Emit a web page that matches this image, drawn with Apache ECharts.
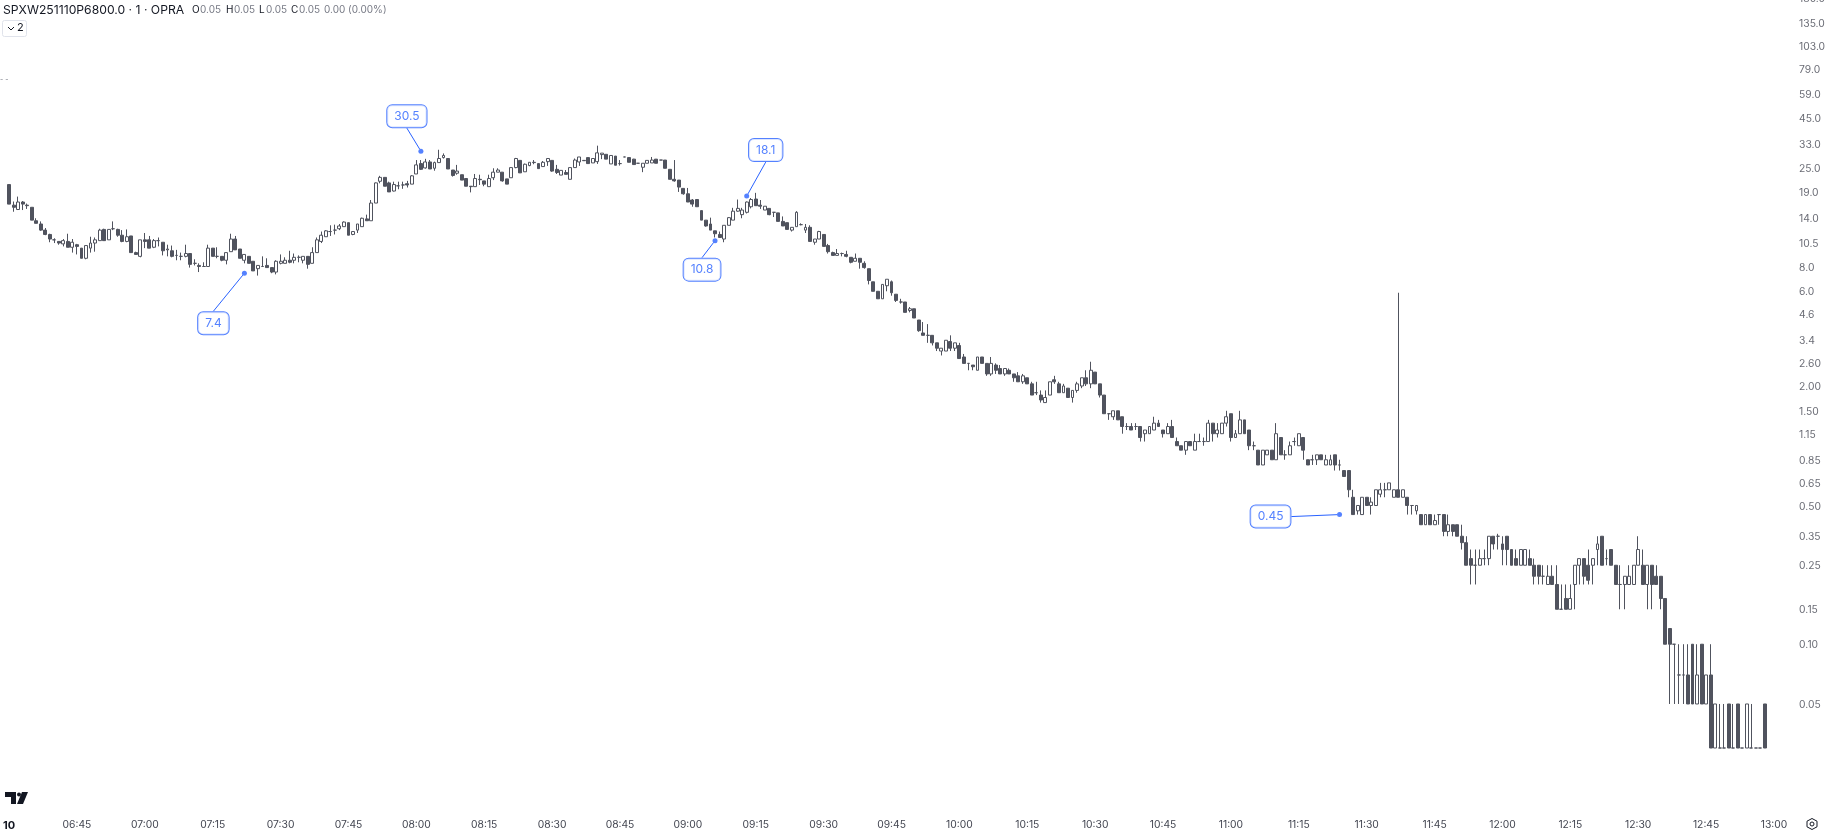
<!DOCTYPE html>
<html><head><meta charset="utf-8">
<style>html,body{margin:0;padding:0;background:#fff}#c{width:1826px;height:834px}</style>
<script src="https://cdn.jsdelivr.net/npm/echarts@6/dist/echarts.min.js"></script>
</head><body><div id="c"></div>
<script>
const opens=[20.7,16.3,15.5,16.9,16.3,15.9,13.6,13.1,12.2,11.6,
10.9,10.7,10.4,10.7,10.0,10.3,9.9,8.8,9.9,10.5,
10.8,12.3,10.9,12.4,12.3,11.5,10.7,11.4,9.4,9.0,
10.9,10.9,10.0,10.8,10.6,9.7,9.6,9.1,9.0,9.0,
9.3,8.3,8.1,8.0,8.0,9.9,9.0,9.0,8.6,9.5,
11.0,9.8,8.6,9.0,8.5,7.8,8.0,8.1,7.9,7.5,
8.3,8.3,8.6,8.6,8.9,8.6,9.0,8.3,9.4,10.7,
11.3,12.0,12.2,12.4,12.7,13.3,11.6,12.2,12.7,13.9,
13.6,16.7,21.5,22.5,21.1,19.2,20.4,20.6,20.9,20.8,
23.4,26.4,25.1,26.9,25.0,26.7,28.3,28.0,24.5,23.6,
23.2,22.2,20.3,20.2,22.0,21.6,20.2,22.4,23.9,23.9,
22.1,22.4,25.2,27.4,24.0,25.8,26.8,26.4,25.5,27.0,
27.4,24.7,23.1,23.8,22.0,25.2,26.9,27.4,28.3,26.6,
27.0,29.3,29.4,26.3,28.8,26.4,28.5,28.3,27.8,26.5,
25.3,26.5,26.6,27.8,27.5,27.5,24.7,22.0,21.8,19.8,
18.6,17.3,17.4,15.3,13.7,13.1,12.1,11.6,11.0,12.9,
13.7,15.2,14.6,15.0,16.0,17.5,16.3,15.4,15.7,15.0,
14.9,13.5,13.3,12.2,12.7,13.0,12.2,12.6,10.6,11.0,
11.6,10.2,9.4,9.1,9.3,9.2,8.9,8.5,8.8,8.3,
7.8,6.7,6.0,5.5,6.4,6.7,5.8,5.3,5.3,4.8,
4.9,4.3,3.7,3.6,3.6,3.3,3.0,3.0,3.35,3.1,
3.2,2.8,2.6,2.55,2.4,2.8,2.6,2.3,2.55,2.45,
2.3,2.4,2.3,2.25,2.1,2.2,2.05,1.85,1.8,1.65,
1.8,2.15,2.05,1.85,1.95,1.75,1.9,2.0,2.2,2.05,
2.35,2.05,1.8,1.45,1.4,1.5,1.4,1.25,1.25,1.25,
1.25,1.15,1.15,1.2,1.3,1.2,1.15,1.25,1.05,1.0,
.95,1.05,.95,1.05,1.05,1.05,1.3,1.15,1.15,1.3,
1.45,1.1,1.15,1.35,1.2,1.0,.95,.8,.9,.95,
.85,1.1,.9,.9,1.05,1.0,1.1,.85,.85,.85,
.9,.8,.8,.9,.8,.75,.75,.55,.47,.45,
.55,.5,.5,.57,.6,.6,.55,.6,.55,.55,
.5,.47,.45,.4,.45,.4,.45,.45,.37,.4,
.4,.35,.325,.27,.25,.25,.27,.27,.35,.35,
.32,.35,.30,.27,.25,.25,.27,.25,.25,.22,
.20,.22,.20,.15,.17,.15,.20,.25,.27,.25,
.25,.30,.35,.27,.30,.25,.20,.20,.20,.20,
.25,.25,.20,.25,.22,.22,.17,.12,.10,.07,
.07,.07,.10,.05,.10,.05,.07,.03,.03,.03,
.05,.03,.05,.03,.03,.03,.03,.03,.05];
const closes=[16.5,15.9,16.9,16.5,16.2,13.7,13.2,12.2,11.6,11.0,
10.9,10.5,10.8,10.0,10.6,10.1,8.8,10.2,10.5,10.9,
12.2,10.8,12.3,12.4,11.5,10.7,11.3,9.4,9.2,10.9,
10.7,9.9,10.8,10.8,9.6,9.8,9.0,9.1,9.0,9.3,
8.2,8.3,8.0,8.0,9.9,9.0,9.0,8.6,9.4,11.0,
9.7,8.8,9.2,8.3,7.6,8.1,8.0,7.9,7.5,8.5,
8.5,8.6,8.4,8.9,8.9,9.0,8.2,9.4,10.9,11.5,
12.1,12.0,12.2,12.8,13.4,11.5,12.0,13.1,14.0,13.6,
16.7,21.1,22.5,20.3,19.0,20.7,20.4,20.6,20.6,22.9,
26.0,24.7,26.9,24.8,26.7,28.0,29.0,24.8,23.0,24.2,
21.8,20.3,20.2,22.2,21.9,20.8,22.2,23.9,24.5,21.6,
20.8,25.2,28.0,23.7,26.2,26.8,26.7,24.9,26.8,28.0,
24.2,23.8,24.4,23.3,25.2,27.5,28.5,27.3,26.4,28.0,
29.9,29.8,27.8,29.0,25.9,26.4,28.5,26.8,26.1,26.5,
26.5,27.4,27.5,26.5,27.5,25.0,22.0,21.6,20.1,18.6,
16.9,16.5,16.0,13.7,12.8,12.2,11.7,11.2,12.9,14.1,
15.2,15.7,15.4,16.9,17.4,16.2,16.1,16.1,14.6,15.0,
13.5,12.8,12.3,12.6,15.0,13.0,12.6,10.7,11.0,12.0,
10.1,9.5,9.1,9.3,9.3,9.0,8.4,8.8,8.4,7.9,
6.8,6.0,5.5,6.5,6.9,5.9,5.4,5.3,4.7,4.9,
4.4,3.8,3.6,3.6,3.3,3.1,3.1,3.4,3.1,3.3,
2.75,2.6,2.6,2.5,2.8,2.6,2.3,2.6,2.4,2.3,
2.45,2.3,2.2,2.1,2.25,2.05,1.8,1.85,1.7,1.75,
2.1,2.1,1.85,2.0,1.75,1.9,2.05,2.2,2.05,2.4,
2.05,1.8,1.45,1.45,1.5,1.35,1.25,1.25,1.2,1.25,
1.1,1.2,1.25,1.3,1.25,1.15,1.25,1.1,1.0,.95,
1.05,1.0,1.05,1.05,1.05,1.3,1.15,1.2,1.3,1.4,
1.1,1.15,1.35,1.15,1.0,1.0,.8,.95,.95,.85,
1.15,.9,.9,1.0,1.05,1.15,.95,.8,.85,.9,
.85,.85,.85,.8,.8,.7,.6,.45,.5,.55,
.5,.52,.6,.6,.6,.65,.6,.55,.6,.5,
.5,.5,.4,.45,.4,.42,.45,.37,.4,.37,
.35,.325,.25,.25,.25,.27,.27,.35,.32,.35,
.30,.30,.25,.25,.30,.30,.25,.22,.22,.22,
.22,.20,.15,.15,.15,.17,.25,.27,.22,.21,
.27,.32,.25,.27,.25,.20,.20,.22,.22,.25,
.30,.20,.25,.20,.20,.17,.10,.10,.10,.07,
.07,.05,.05,.07,.05,.07,.03,.05,.03,.03,
.03,.03,.03,.03,.05,.03,.03,.03,.03];
const highs=[20.7,17.0,18.0,17.1,16.6,15.9,14.0,13.5,12.5,11.7,
11.1,10.7,11.0,11.7,11.0,10.4,9.9,10.2,11.3,11.2,
12.4,12.4,12.3,13.5,12.4,12.2,12.3,11.4,9.5,10.9,
11.8,11.4,11.0,11.2,10.6,10.3,10.2,9.7,9.4,10.3,
9.3,8.7,8.3,8.4,10.3,9.9,10.0,9.0,9.4,11.7,
11.4,9.8,9.2,9.0,8.5,8.1,9.0,8.8,7.9,8.6,
9.2,8.9,9.6,9.3,9.1,9.0,9.0,10.0,11.2,12.0,
12.2,12.9,13.0,13.1,13.5,13.3,12.0,13.1,14.1,14.6,
17.3,21.2,22.9,22.5,21.4,21.4,21.4,21.4,21.6,23.1,
27.5,27.5,27.9,27.5,27.0,31.0,29.7,28.0,24.5,26.0,
23.2,22.2,20.3,23.4,23.2,21.6,23.2,25.0,25.0,23.9,
22.1,25.2,28.2,27.4,26.4,26.8,27.5,26.4,27.2,28.0,
27.4,26.0,24.4,24.5,25.2,28.0,28.5,27.4,28.3,28.0,
32.5,29.8,29.4,29.0,28.8,27.5,28.5,28.4,27.9,26.5,
26.5,27.4,28.5,27.8,27.5,27.5,24.7,27.5,21.8,19.8,
19.9,17.5,17.5,15.3,13.7,14.1,12.1,12.0,12.9,14.2,
15.8,17.4,15.8,17.0,17.7,18.8,17.3,16.1,15.7,15.0,
14.9,14.3,13.3,12.6,15.2,13.2,13.1,12.9,11.0,12.1,
11.6,10.4,9.5,9.8,9.4,9.6,8.9,9.3,8.8,8.5,
7.8,6.7,6.0,6.5,6.9,6.8,5.8,5.5,5.3,5.0,
4.9,4.3,4.2,4.1,3.6,3.3,3.1,3.4,3.6,3.3,
3.3,2.9,2.6,2.55,2.8,2.8,2.6,2.8,2.6,2.55,
2.45,2.45,2.3,2.35,2.3,2.2,2.1,2.1,1.9,1.9,
2.1,2.25,2.1,2.05,1.95,1.9,2.1,2.2,2.4,2.65,
2.35,2.05,1.8,1.45,1.5,1.5,1.4,1.3,1.3,1.3,
1.25,1.2,1.25,1.4,1.35,1.2,1.3,1.35,1.1,1.0,
1.05,1.05,1.15,1.15,1.1,1.35,1.3,1.3,1.3,1.5,
1.45,1.2,1.5,1.35,1.2,1.05,.95,.95,.95,.95,
1.3,1.1,.95,1.05,1.1,1.15,1.1,.85,.9,.9,
.9,.9,.9,.9,.85,.75,.75,.6,.5,.55,
.55,.55,.6,.65,.65,.65,.6,5.9,.6,.55,
.5,.5,.45,.45,.45,.45,.45,.45,.45,.4,
.4,.4,.35,.30,.30,.30,.30,.35,.35,.36,
.35,.35,.30,.30,.30,.30,.30,.27,.25,.25,
.25,.25,.25,.20,.20,.20,.25,.27,.27,.30,
.27,.35,.35,.30,.30,.25,.25,.22,.25,.25,
.35,.30,.25,.25,.25,.22,.17,.12,.10,.10,
.10,.10,.10,.10,.10,.07,.10,.05,.05,.05,
.05,.05,.05,.03,.05,.05,.03,.03,.05];
const lows=[16.5,15.1,15.4,15.4,15.6,13.7,13.2,12.1,11.5,10.6,
10.5,10.3,10.1,10.0,9.4,9.2,8.8,8.7,9.4,9.5,
10.8,10.8,10.9,12.2,11.3,10.6,10.6,9.4,9.2,8.9,
9.9,9.9,9.9,10.1,9.1,9.0,8.9,8.6,8.6,8.9,
7.9,8.1,7.5,8.0,8.0,9.0,8.8,8.5,8.2,9.5,
9.7,8.8,8.3,8.3,7.6,7.2,8.0,7.9,7.4,7.3,
8.2,8.3,8.3,8.3,8.4,8.3,7.8,8.3,9.4,10.5,
11.3,11.4,11.6,12.2,12.7,11.5,11.5,11.8,12.7,13.6,
13.6,16.7,21.0,20.3,19.0,19.1,19.6,19.7,20.0,20.8,
23.4,24.5,24.9,24.8,24.3,26.7,28.0,24.8,22.7,23.2,
21.8,20.3,18.9,20.2,20.6,20.3,20.2,21.8,23.9,21.4,
20.8,22.4,25.0,23.7,24.0,25.6,26.2,24.9,25.5,25.7,
24.0,23.4,23.1,23.3,22.0,25.2,25.7,27.3,26.4,26.6,
26.3,27.8,27.8,26.3,25.9,25.8,28.5,26.8,26.1,26.5,
23.9,26.5,26.6,26.5,27.5,25.0,22.0,21.4,19.0,18.4,
16.9,16.0,16.0,13.7,12.7,12.2,11.2,11.2,10.6,12.9,
13.7,15.1,14.0,14.8,15.7,16.2,15.6,15.4,14.5,14.2,
13.5,12.8,12.3,12.0,12.7,12.9,11.8,10.7,10.3,11.0,
10.1,9.3,9.1,9.1,9.0,8.9,8.3,8.5,7.8,7.8,
6.5,6.0,5.5,5.5,6.0,5.7,5.3,5.2,4.7,4.7,
4.4,3.75,3.6,3.3,3.2,3.0,2.85,3.0,3.0,3.0,
2.75,2.6,2.4,2.4,2.4,2.6,2.25,2.25,2.3,2.3,
2.25,2.3,2.1,2.1,2.05,2.05,1.8,1.8,1.65,1.65,
1.8,2.05,1.85,1.85,1.75,1.65,1.85,1.95,2.0,1.95,
2.05,1.75,1.45,1.35,1.35,1.35,1.15,1.2,1.2,1.2,
1.05,1.05,1.15,1.2,1.25,1.1,1.15,1.1,1.0,.95,
.9,1.0,.95,1.05,1.0,1.05,1.05,1.1,1.15,1.25,
1.05,1.1,1.15,1.15,.95,.95,.8,.8,.9,.85,
.85,.9,.85,.9,1.0,1.0,.85,.8,.8,.8,
.85,.8,.8,.75,.75,.7,.55,.45,.45,.45,
.5,.45,.5,.55,.55,.6,.55,.55,.55,.45,
.45,.45,.4,.4,.4,.4,.4,.35,.35,.35,
.35,.30,.25,.20,.20,.25,.25,.25,.30,.30,
.25,.25,.25,.25,.25,.25,.25,.20,.20,.20,
.20,.20,.15,.15,.15,.15,.15,.20,.20,.20,
.20,.25,.25,.25,.25,.20,.15,.15,.20,.20,
.25,.20,.15,.15,.20,.15,.10,.05,.05,.05,
.05,.05,.05,.05,.05,.05,.03,.03,.03,.03,
.03,.03,.03,.03,.03,.03,.03,.03,.03];
const priceTicks=[180,135,103,79,59,45,33,25,19,14,10.5,8,6,4.6,3.4,2.6,2,1.5,1.15,.85,.65,.5,.35,.25,.15,.1,.05];
const priceTickLabels=["180.0","135.0","103.0","79.0","59.0","45.0","33.0","25.0","19.0","14.0","10.5","8.0","6.0","4.6","3.4","2.60","2.00","1.50","1.15","0.85","0.65","0.50","0.35","0.25","0.15","0.10","0.05"];
const noteIndex=[52,91,156,163,294];
const notePrice=[7.4,30.5,10.8,18.1,0.45];
const noteText=["7.4","30.5","10.8","18.1","0.45"];
const noteDx=[-31,-14,-13,19,-69];
const noteDy=[50,-35,29,-46,2];
const SESSION_START=390, SLOTS=395;
const AXIS_MIN=0.01428, AXIS_MAX=176.1;
const fmt=m=>String(Math.floor(m/60)).padStart(2,'0')+':'+String(m%60).padStart(2,'0');
const times=Array.from({length:SLOTS},(_,i)=>fmt(SESSION_START+i));
const candles=opens.map((o,i)=>[o,closes[i],lows[i],highs[i]]);
const INK='#50535E', FONT='Inter, "Liberation Sans", sans-serif', AXISTXT='#434651';
const chart=echarts.init(document.getElementById('c'),null,{renderer:'canvas'});
const tick=(x,y,text,fill,size,weight)=>({type:'text',x,y,style:{text,fill,font:(weight||400)+' '+size+'px '+FONT,textVerticalAlign:'middle'},silent:true});
chart.setOption({
 animation:false,backgroundColor:'#fff',
 grid:{left:6.54,top:0,width:1787.8,height:812,containLabel:false},
 tooltip:{show:false},
 xAxis:{type:'category',data:times,boundaryGap:true,
  axisLine:{show:false},axisTick:{show:false},splitLine:{show:false},
  axisLabel:{show:true,margin:8,hideOverlap:false,color:AXISTXT,fontFamily:FONT,fontSize:10.3,
   interval:(i,v)=>+v.slice(3)%15===0,
   formatter:v=>v==='06:30'?'{d|10}':v,
   rich:{d:{fontWeight:700,fontFamily:FONT,fontSize:11,color:'#131722'}}}},
 yAxis:{type:'log',logBase:10,position:'right',min:AXIS_MIN,max:AXIS_MAX,
  axisLine:{show:false},axisTick:{show:false},splitLine:{show:false},minorTick:{show:false},
  axisLabel:{show:false}},
 series:[
  {type:'candlestick',data:candles,barWidth:3.4,clip:false,
   itemStyle:{color:'#ffffff',color0:INK,borderColor:INK,borderColor0:INK,borderWidth:1}},
  {type:'scatter',name:'axis',data:priceTicks.map((p,i)=>[SLOTS-1,p]),symbolSize:0,silent:true,clip:false,
   label:{show:true,position:'right',distance:7,offset:[0,1],color:AXISTXT,fontFamily:FONT,fontSize:10.3,
    formatter:p=>priceTickLabels[p.dataIndex]}},
  {type:'scatter',name:'notes',data:noteIndex.map((n,i)=>[n,notePrice[i]]),symbolSize:5,z:5,clip:false,
   itemStyle:{color:'#2962FF'},
   label:{show:true,position:'inside',color:'#2962FF',fontFamily:FONT,fontSize:12,backgroundColor:'#fff',
    borderColor:'#2962FF',borderWidth:1,borderRadius:5,padding:[5,7,5,7],
    formatter:p=>noteText[p.dataIndex]},
   labelLayout:p=>({dx:noteDx[p.dataIndex],dy:noteDy[p.dataIndex]}),
   labelLine:{show:true,lineStyle:{color:'#2962FF',width:1}}}
 ],
 graphic:[
  tick(3,10,'SPXW251110P6800.0 · 1 · OPRA','#131722',12.2),
  tick(192,10,'O','#131722',10),tick(200,10,'0.05','#787B86',10),
  tick(226,10,'H','#131722',10),tick(234,10,'0.05','#787B86',10),
  tick(259,10,'L','#131722',10),tick(266,10,'0.05','#787B86',10),
  tick(291,10,'C','#131722',10),tick(299,10,'0.05','#787B86',10),
  tick(324,10,'0.00 (0.00%)','#787B86',10),
  {type:'rect',shape:{x:2.5,y:20.5,width:24,height:16,r:2},style:{fill:'#fff',stroke:'#E0E3EB',lineWidth:1},silent:true},
  {type:'polyline',shape:{points:[[8,27],[11,30],[14,27]]},style:{fill:'none',stroke:'#131722',lineWidth:1},silent:true},
  tick(17,28,'2','#131722',11),
  tick(0,80,'- -','#787B86',7),
  {type:'polygon',shape:{points:[[5,792],[16,792],[16,804],[11,804],[11,797],[5,797]]},style:{fill:'#131722'},silent:true},
  {type:'polygon',shape:{points:[[22,792],[28,792],[23,804],[17,804]]},style:{fill:'#131722'},silent:true},
  {type:'circle',shape:{cx:19,cy:794.5,r:2},style:{fill:'#131722'},silent:true},
  {type:'polygon',shape:{points:[[1812,818.5],[1817,821.2],[1817,826.8],[1812,829.5],[1807,826.8],[1807,821.2]]},style:{fill:'none',stroke:'#131722',lineWidth:1},silent:true},
  {type:'circle',shape:{cx:1812,cy:824,r:2},style:{fill:'none',stroke:'#131722',lineWidth:1},silent:true}
 ]
});
</script></body></html>
